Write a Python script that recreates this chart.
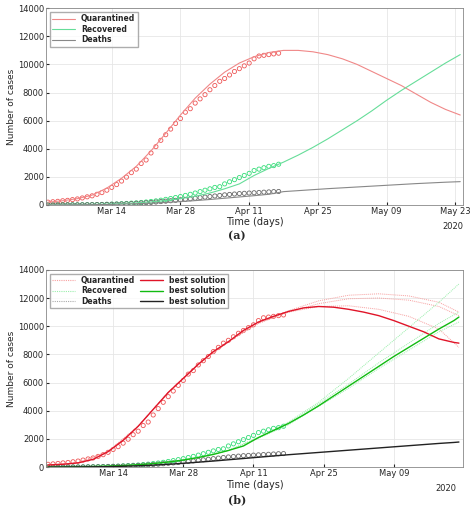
import numpy as np, pandas as pd, matplotlib
matplotlib.use("Agg")
import matplotlib.pyplot as plt, seaborn as sns
from matplotlib.lines import Line2D

sns.set_style("ticks")
plt.rcParams['font.family'] = ['DejaVu Sans']

start = pd.Timestamp("2020-03-01")
obs_dates = pd.date_range(start, periods=48, freq="D")
q_obs = [200,230,260,300,330,380,430,500,580,650,760,880,1050,1250,1450,1700,1980,2300,2550,2950,3200,3700,4150,4600,5000,5400,5800,6150,6600,6850,7250,7550,7850,8200,8500,8800,9000,9250,9500,9700,9900,10100,10400,10600,10650,10700,10750,10800]
r_obs = [0,0,0,5,5,10,10,15,20,25,30,40,50,60,70,90,110,130,150,180,210,250,290,340,400,460,530,600,680,760,850,950,1050,1150,1250,1300,1500,1650,1800,1950,2100,2250,2450,2550,2650,2750,2800,2900]
d_obs = [0,0,1,2,3,5,8,10,15,20,25,30,40,50,60,70,85,100,120,140,160,180,210,240,270,300,330,370,400,440,480,520,560,600,640,680,720,750,780,810,830,850,870,890,910,930,950,960]

# top model: every 3 days from Mar 1
top_days = list(range(0, 85, 3))
q_top = [200,300,450,700,1200,1900,2750,3850,5100,6400,7600,8600,9450,10100,10550,10850,11000,11000,10900,10700,10400,10000,9500,9000,8500,7900,7300,6800,6400]
r_top = [0,10,20,40,60,100,150,220,320,450,620,850,1150,1500,2100,2600,3050,3550,4100,4700,5350,6000,6700,7450,8150,8800,9450,10100,10700]
d_top = [0,5,10,20,35,60,90,130,180,240,310,390,480,570,660,760,950,1020,1090,1160,1220,1280,1340,1400,1460,1520,1570,1620,1660]

# bottom best: every 3 days day 0..81 + day 82
bot_days = list(range(0, 82, 3)) + [82]
q_best = [150,200,300,550,1100,1900,2900,4100,5300,6300,7300,8200,8900,9700,10300,10700,11050,11300,11400,11350,11200,11000,10750,10400,10000,9600,9100,8850,8800]
r_best = [0,10,20,40,70,110,170,250,360,500,680,900,1180,1500,2100,2600,3100,3700,4350,5050,5750,6450,7150,7850,8500,9150,9800,10400,10650]
d_best = [0,5,10,20,35,60,95,140,200,270,350,430,520,610,700,790,880,960,1040,1120,1200,1280,1360,1440,1520,1600,1680,1750,1780]

var_days = list(range(0, 79, 6)) + [82]
q_vars = [[150,300,1100,2900,5300,7300,8900,10200,11100,11800,12200,12300,12150,11700,11000],
          [150,300,1100,2900,5300,7300,8900,10200,11000,11600,11950,12000,11850,11400,10750],
          [150,300,1100,2900,5300,7300,8900,10300,11000,11400,11450,11200,10700,9800,8500]]
r_vars = [[0,20,70,170,360,680,1180,2100,3200,4600,6300,8100,9900,11700,13000],
          [0,20,70,170,360,680,1180,2100,3100,4500,5900,7400,8800,10200,11000],
          [0,20,70,170,360,680,1180,2050,3000,4300,5600,7000,8300,9600,10300]]

def dts(days):
    return [start + pd.Timedelta(days=d) for d in days]

Q, R, D = "#ee5555", "#33dd77", "#666666"
fig = plt.figure(figsize=(4.74, 5.15), dpi=100)
ax1 = fig.add_axes([0.097, 0.602, 0.880, 0.382])
ax2 = fig.add_axes([0.097, 0.093, 0.880, 0.383])

def style(ax, xmax, ticks, labs):
    ax.set_ylim(0, 14000)
    ax.set_yticks(range(0, 14001, 2000))
    ax.set_xlim(start - pd.Timedelta(days=0.4), xmax)
    ax.set_xticks(ticks)
    ax.set_xticklabels(labs)
    ax.tick_params(labelsize=6, length=2, direction="in", pad=1.5)
    ax.grid(True, color="#e6e6e6", lw=0.6)
    ax.set_ylabel("Number of cases", fontsize=6.5, labelpad=1)
    ax.set_xlabel("Time (days)", fontsize=7, labelpad=1)
    for s in ax.spines.values():
        s.set_color("#888888"); s.set_linewidth(0.6)

ms = 9
sns.scatterplot(x=obs_dates, y=q_obs, ax=ax1, marker="o", facecolor="none", edgecolor=Q, s=ms, linewidth=0.6)
sns.scatterplot(x=obs_dates, y=r_obs, ax=ax1, marker="o", facecolor="none", edgecolor=R, s=ms, linewidth=0.6)
sns.scatterplot(x=obs_dates, y=d_obs, ax=ax1, marker="o", facecolor="none", edgecolor=D, s=ms, linewidth=0.6)
sns.lineplot(x=dts(top_days), y=q_top, ax=ax1, color="#f08888", lw=0.8, label="Quarantined")
sns.lineplot(x=dts(top_days), y=r_top, ax=ax1, color="#66dd99", lw=0.8, label="Recovered")
sns.lineplot(x=dts(top_days), y=d_top, ax=ax1, color="#888888", lw=0.8, label="Deaths")
t_ticks = pd.to_datetime(["2020-03-14","2020-03-28","2020-04-11","2020-04-25","2020-05-09","2020-05-23"])
style(ax1, pd.Timestamp("2020-05-24 14:00"), t_ticks, ["Mar 14","Mar 28","Apr 11","Apr 25","May 09","May 23"])
ax1.legend(loc="upper left", frameon=True, edgecolor="#999999", fancybox=False,
           handlelength=3, borderpad=0.3, labelspacing=0.2, prop={"weight": "bold", "size": 5.5})
ax1.text(1.0, -0.085, "2020", transform=ax1.transAxes, ha="right", va="top", fontsize=6)
fig.text(0.5, 0.535, "(a)", ha="center", fontsize=8, family="DejaVu Serif", weight="bold")

for v in q_vars:
    sns.lineplot(x=dts(var_days), y=v, ax=ax2, color="#f7a0a0", lw=0.7, ls=(0, (1, 1)))
for v in r_vars:
    sns.lineplot(x=dts(var_days), y=v, ax=ax2, color="#99eeaa", lw=0.7, ls=(0, (1, 1)))
sns.scatterplot(x=obs_dates, y=q_obs, ax=ax2, marker="o", facecolor="none", edgecolor=Q, s=ms, linewidth=0.6)
sns.scatterplot(x=obs_dates, y=r_obs, ax=ax2, marker="o", facecolor="none", edgecolor=R, s=ms, linewidth=0.6)
sns.scatterplot(x=obs_dates, y=d_obs, ax=ax2, marker="o", facecolor="none", edgecolor=D, s=ms, linewidth=0.6)
sns.lineplot(x=dts(bot_days), y=q_best, ax=ax2, color="#e01428", lw=1.0)
sns.lineplot(x=dts(bot_days), y=r_best, ax=ax2, color="#11bb11", lw=1.0)
sns.lineplot(x=dts(bot_days), y=d_best, ax=ax2, color="#222222", lw=1.0)
style(ax2, pd.Timestamp("2020-05-22 20:00"), t_ticks[:5], ["Mar 14","Mar 28","Apr 11","Apr 25","May 09"])
h = [Line2D([], [], color="#f7a0a0", ls=(0, (1, 1)), lw=0.8),
     Line2D([], [], color="#99eeaa", ls=(0, (1, 1)), lw=0.8),
     Line2D([], [], color="#aaaaaa", ls=(0, (1, 1)), lw=0.8),
     Line2D([], [], color="#e01428", lw=1.0),
     Line2D([], [], color="#11bb11", lw=1.0),
     Line2D([], [], color="#222222", lw=1.0)]
ax2.legend(h, ["Quarantined","Recovered","Deaths","best solution","best solution","best solution"],
           loc="upper left", ncol=2, frameon=True, edgecolor="#999999", fancybox=False,
           handlelength=3, borderpad=0.3, labelspacing=0.2, columnspacing=0.6,
           prop={"weight": "bold", "size": 5.5})
ax2.text(0.985, -0.085, "2020", transform=ax2.transAxes, ha="right", va="top", fontsize=6)
fig.text(0.5, 0.022, "(b)", ha="center", fontsize=8, family="DejaVu Serif", weight="bold")

fig.savefig("out.png", dpi=100)
